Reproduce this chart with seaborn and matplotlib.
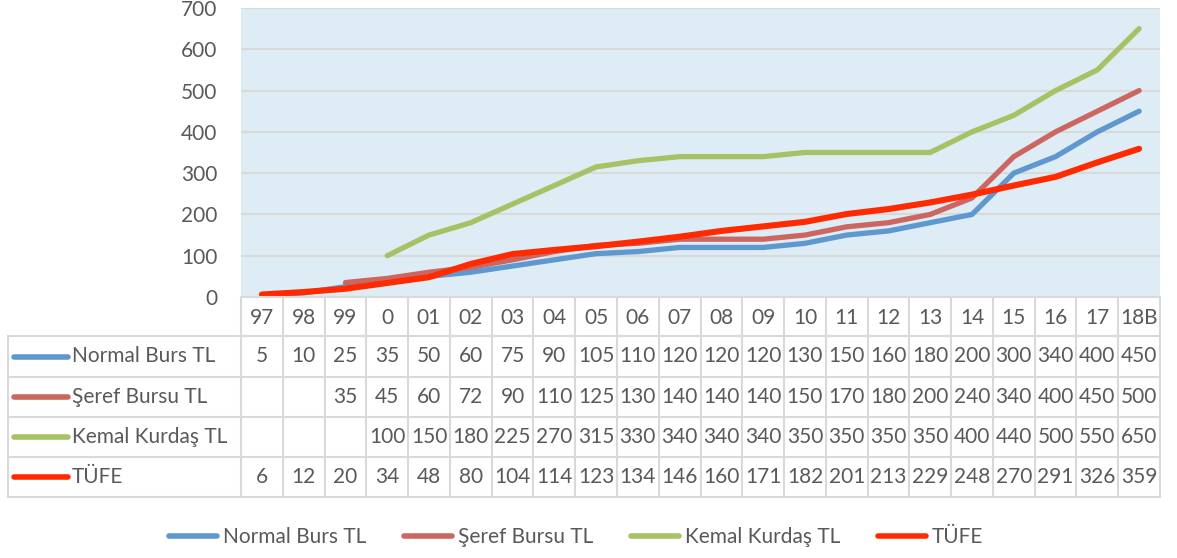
import matplotlib
matplotlib.use("Agg")
import matplotlib.pyplot as plt
import matplotlib.lines as mlines
import seaborn as sns
import numpy as np
import pandas as pd

years = ["97", "98", "99", "0", "01", "02", "03", "04", "05", "06", "07",
         "08", "09", "10", "11", "12", "13", "14", "15", "16", "17", "18B"]
normal = [5, 10, 25, 35, 50, 60, 75, 90, 105, 110, 120, 120, 120, 130, 150,
          160, 180, 200, 300, 340, 400, 450]
seref = [None, None, 35, 45, 60, 72, 90, 110, 125, 130, 140, 140, 140, 150,
         170, 180, 200, 240, 340, 400, 450, 500]
kemal = [None, None, None, 100, 150, 180, 225, 270, 315, 330, 340, 340, 340,
         350, 350, 350, 350, 400, 440, 500, 550, 650]
tufe = [6, 12, 20, 34, 48, 80, 104, 114, 123, 134, 146, 160, 171, 182, 201,
        213, 229, 248, 270, 291, 326, 359]
names = ["Normal Burs TL", "Şeref Bursu TL", "Kemal Kurdaş TL", "TÜFE"]
colors = ["#5f97cf", "#cc6660", "#a6c264", "#ff2a00"]
yticks = [0, 100, 200, 300, 400, 500, 600, 700]

series = [normal, seref, kemal, tufe]
rows = []
for name, vals in zip(names, series):
    for i, v in enumerate(vals):
        rows.append({"pos": i, "val": v, "seri": name})
df = pd.DataFrame(rows).dropna()

sns.set_theme(style="white")
plt.rcParams['font.family'] = ['Lato', 'DejaVu Sans']
txtcol = '#595959'
gridcol = '#d9d9d9'
fs = 15
W, H = 1177, 558

fig = plt.figure(figsize=(W / 100, H / 100), dpi=100)
ax = fig.add_axes([241 / W, 1 - 297 / H, 919 / W, 289 / H])
ax.set_facecolor('#deedf5')
for s in ax.spines.values():
    s.set_visible(False)
ax.set_yticks(yticks)
ax.set_ylim(0, 700)
ax.set_xlim(-0.5, len(years) - 0.5)
ax.set_xticks([])
ax.yaxis.grid(True, color=gridcol, linewidth=1.5)
ax.set_axisbelow(True)
ax.tick_params(axis='y', length=0, pad=17, labelsize=fs, labelcolor=txtcol)

sns.lineplot(data=df, x="pos", y="val", hue="seri", hue_order=names,
             palette=colors, linewidth=3.8, legend=False, sort=False,
             solid_capstyle='round', ax=ax)
# TUFE a bit thicker
ax.lines[-1].set_linewidth(4.4)
ax.set_xlabel('')
ax.set_ylabel('')

# data table under the chart
tab = fig.add_axes([241 / W, 1 - 497 / H, 919 / W, 200 / H])
tab.set_xlim(-0.5, len(years) - 0.5)
tab.set_ylim(200, 0)
tab.axis('off')
colw = 919 / len(years)
left = -0.5 - 233 / colw
edges = [0, 39, 80, 120, 160, 200]

kw = dict(color=gridcol, linewidth=1.5, clip_on=False)
for k in range(len(years) + 1):
    tab.plot([k - 0.5, k - 0.5], [0, 200], **kw)
tab.plot([left, left], [edges[1], 200], **kw)
tab.plot([-0.5, len(years) - 0.5], [0, 0], **kw)
for e in edges[1:]:
    tab.plot([left, len(years) - 0.5], [e, e], **kw)

for i, yr in enumerate(years):
    tab.text(i, (edges[0] + edges[1]) / 2 + 1, yr, ha='center', va='center',
             fontsize=fs, color=txtcol)
for r, (name, vals, c) in enumerate(zip(names, series, colors)):
    yc = (edges[r + 1] + edges[r + 2]) / 2
    tab.plot([left + 6 / colw, left + 60 / colw], [yc, yc], color=c,
             linewidth=4, solid_capstyle='round', clip_on=False)
    tab.text(left + 64 / colw, yc, name, ha='left', va='center',
             fontsize=fs, color=txtcol, clip_on=False)
    for i, v in enumerate(vals):
        if v is not None:
            tab.text(i, yc, str(v), ha='center', va='center',
                     fontsize=fs, color=txtcol)

handles = [mlines.Line2D([], [], color=c, linewidth=4, solid_capstyle='round',
                         label=n) for n, c in zip(names, colors)]
leg = fig.legend(handles=handles, loc='center', ncol=4, frameon=False,
                 bbox_to_anchor=(576 / W, 1 - 537 / H), fontsize=fs,
                 handlelength=2.3, handletextpad=0.3, columnspacing=1.8)
for t in leg.get_texts():
    t.set_color(txtcol)

fig.savefig('out.png', dpi=100)
